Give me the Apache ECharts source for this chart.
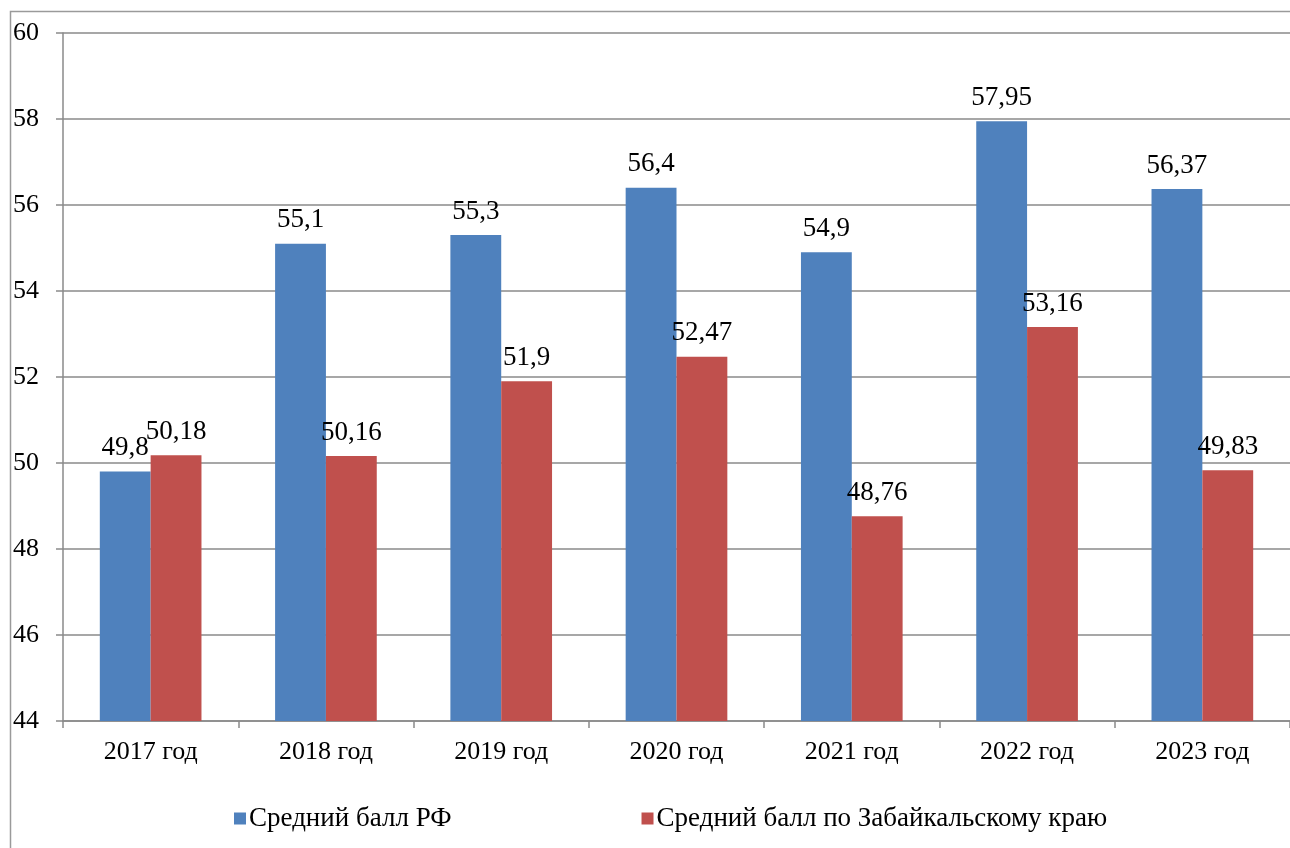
<!DOCTYPE html>
<html>
<head>
<meta charset="utf-8">
<script src="https://cdn.jsdelivr.net/npm/echarts@6/dist/echarts.min.js"></script>
<style>html,body{margin:0;padding:0;background:#fff;}#c{width:1290px;height:848px;}</style>
</head>
<body>
<div id="c"></div>
<script>
const categories = ['2017 год','2018 год','2019 год','2020 год','2021 год','2022 год','2023 год'];
const seriesNames = ['Средний балл РФ','Средний балл по Забайкальскому краю'];
const rfValues = [49.8, 55.1, 55.3, 56.4, 54.9, 57.95, 56.37];
const zabValues = [50.18, 50.16, 51.9, 52.47, 48.76, 53.16, 49.83];
const yMin = 44, yMax = 60, yStep = 2;

const FONT = '"Liberation Serif", "Times New Roman", serif';
const chart = echarts.init(document.getElementById('c'));
const fmt = p => String(p.value).replace('.', ',');
const labelCfg = {show:true, position:'top', distance:10, formatter:fmt, color:'#000', fontFamily:FONT, fontSize:27};
chart.setOption({
  animation:false,
  graphic:[{type:'rect', shape:{x:10.5,y:11.5,width:1400,height:1000}, style:{fill:'none', stroke:'#9a9a9a', lineWidth:1.5}, silent:true, z:-1}],
  grid:{left:63, right:0, top:33, bottom:127, containLabel:false},
  legend:{
    bottom:11, left:229, itemWidth:12, itemHeight:12, itemGap:190, icon:'rect',
    textStyle:{fontFamily:FONT, fontSize:27, color:'#000', padding:[0,0,0,-2]},
    data:seriesNames
  },
  xAxis:{
    type:'category', data:categories,
    axisLine:{lineStyle:{color:'#8a8a8a', width:1.5}},
    axisTick:{show:true, length:7, lineStyle:{color:'#8a8a8a', width:1.5}},
    axisLabel:{fontFamily:FONT, fontSize:26, color:'#000', margin:18}
  },
  yAxis:{
    type:'value', min:yMin, max:yMax, interval:yStep,
    axisLine:{show:true, lineStyle:{color:'#8a8a8a', width:1.5}},
    axisTick:{show:true, length:7, inside:false, lineStyle:{color:'#8a8a8a', width:1.5}},
    splitLine:{lineStyle:{color:'#8a8a8a', width:1.5}},
    axisLabel:{fontFamily:FONT, fontSize:26, color:'#000', margin:24, formatter:v=>String(v)}
  },
  series:[
    {name:seriesNames[0], type:'bar', data:rfValues, barGap:'0%', barCategoryGap:'42%', itemStyle:{color:'#4f81bd'}, label:labelCfg},
    {name:seriesNames[1], type:'bar', data:zabValues, itemStyle:{color:'#c0504d'}, label:labelCfg}
  ]
});
</script>
</body>
</html>
